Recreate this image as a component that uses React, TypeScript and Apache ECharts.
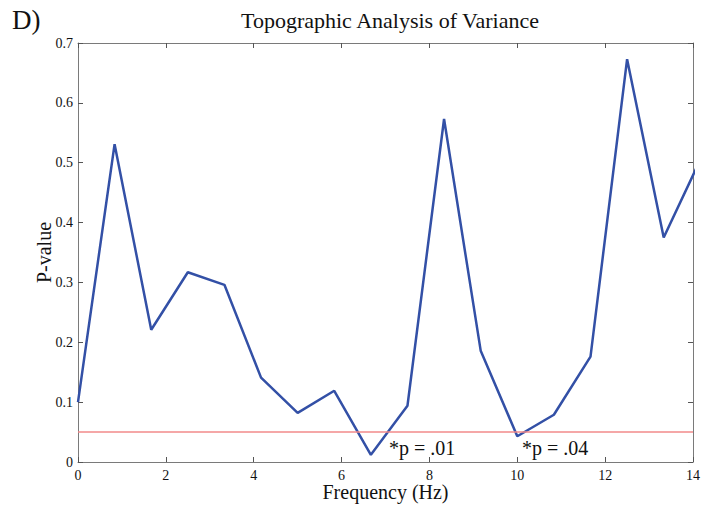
import React, { useEffect, useRef } from "react";
import * as echarts from "echarts";

const freqs = [0, 0.833, 1.667, 2.5, 3.333, 4.167, 5, 5.833, 6.667, 7.5, 8.333, 9.167, 10, 10.833, 11.667, 12.5, 13.333, 14.167];
const pValues = [0.1, 0.531, 0.221, 0.317, 0.296, 0.141, 0.082, 0.119, 0.012, 0.094, 0.573, 0.186, 0.043, 0.079, 0.176, 0.673, 0.375, 0.505];
const threshold = 0.05;
const annotations = ["*p = .01", "*p = .04"];

const FONT = "'Liberation Serif', 'Times New Roman', serif";

export default function App() {
  const ref = useRef<HTMLDivElement>(null);
  useEffect(() => {
    if (!ref.current) return;
    const chart = echarts.init(ref.current, undefined, { renderer: "svg" });
    const axisLine = { show: true, onZero: false, lineStyle: { color: "#7a7a7a", width: 1 } };
    const tick = () => ({ show: true, inside: true, length: 5, lineStyle: { color: "#555", width: 1 } });
    chart.setOption({
      animation: false,
      backgroundColor: "#ffffff",
      grid: { left: 78, right: 11, top: 43, bottom: 43, containLabel: false, outerBoundsMode: "none" },
      xAxis: [
        {
          type: "value", min: 0, max: 14, interval: 2, position: "bottom",
          axisLine,
          axisTick: tick(),
          splitLine: { show: false },
          axisLabel: { color: "#111", fontFamily: FONT, fontSize: 14, lineHeight: 14, margin: 6 },
          name: "Frequency (Hz)", nameLocation: "middle", nameGap: 20, nameMoveOverlap: false,
          nameTextStyle: { color: "#111", fontFamily: FONT, fontSize: 20, lineHeight: 20 },
        },
        {
          type: "value", min: 0, max: 14, interval: 2, position: "top",
          axisLine,
          axisTick: tick(),
          axisLabel: { show: false },
          splitLine: { show: false },
        },
      ],
      yAxis: [
        {
          type: "value", min: 0, max: 0.7, interval: 0.1, position: "left",
          axisLine,
          axisTick: tick(),
          splitLine: { show: false },
          axisLabel: { color: "#111", fontFamily: FONT, fontSize: 14, margin: 5, formatter: (v: number) => (v === 0 ? "0" : v.toFixed(1)) },
          name: "P-value", nameLocation: "middle", nameGap: 24, nameMoveOverlap: false,
          nameTextStyle: { color: "#111", fontFamily: FONT, fontSize: 20 },
        },
        {
          type: "value", min: 0, max: 0.7, interval: 0.1, position: "right",
          axisLine,
          axisTick: tick(),
          axisLabel: { show: false },
          splitLine: { show: false },
        },
      ],
      title: {
        text: "Topographic Analysis of Variance",
        left: 385, textAlign: "center", top: 4,
        textStyle: { color: "#111", fontFamily: FONT, fontSize: 22, fontWeight: "normal" },
      },
      graphic: [
        { type: "text", left: 12, top: 6, style: { text: "D)", fill: "#111", font: `27px ${FONT}` } },
        { type: "text", x: 389, y: 438, style: { text: annotations[0], fill: "#111", font: `20px ${FONT}` } },
        { type: "text", x: 522, y: 438, style: { text: annotations[1], fill: "#111", font: `20px ${FONT}` } },
      ],
      series: [
        {
          type: "line",
          data: freqs.map((f, i) => [f, pValues[i]]),
          showSymbol: false,
          clip: true,
          lineStyle: { color: "#3350a6", width: 2.5 },
          itemStyle: { color: "#3350a6" },
          z: 3,
          markLine: {
            silent: true,
            symbol: ["none", "none"],
            label: { show: false },
            lineStyle: { color: "#f28a8a", width: 1.5, type: "solid" },
            data: [{ yAxis: threshold }],
          },
        },
      ],
    });
    return () => chart.dispose();
  }, []);
  return <div ref={ref} style={{ width: 704, height: 505, position: "absolute", left: 0, top: 0 }} />;
}
